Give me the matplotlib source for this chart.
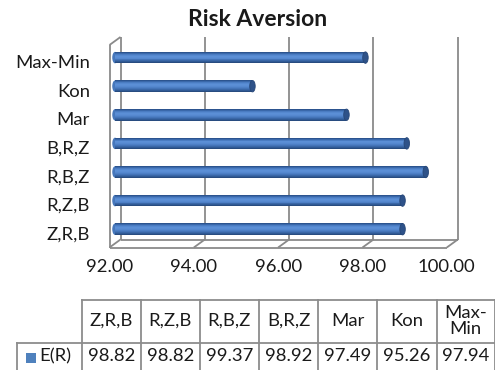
import matplotlib
matplotlib.use("Agg")
import matplotlib.pyplot as plt
from matplotlib.transforms import offset_copy
from matplotlib.patches import Ellipse, Rectangle
import numpy as np

# ---- data ----
categories = ["Z,R,B", "R,Z,B", "R,B,Z", "B,R,Z", "Mar", "Kon", "Max-Min"]
table_headers = ["Z,R,B", "R,Z,B", "R,B,Z", "B,R,Z", "Mar", "Kon", "Max-\nMin"]
values = [98.82, 98.82, 99.37, 98.92, 97.49, 95.26, 97.94]
series_name = "E(R)"
x_ticks = [92, 94, 96, 98, 100]
x_tick_labels = ["92.00", "94.00", "96.00", "98.00", "100.00"]
title = "Risk Aversion"

W, H = 495, 370
DPI = 100
FONT = "Lato"
FS = 13.3
TXT = "#1a1a1a"
GRID = "#8a8a8a"
BAR_BLUE = "#4f81bd"

plt.rcParams["font.family"] = [FONT, "DejaVu Sans"]

fig = plt.figure(figsize=(W / DPI, H / DPI), dpi=DPI)

# pixel-space overlay for the 3-D frame and the data table
ov = fig.add_axes([0, 0, 1, 1], zorder=0)
ov.set_xlim(0, W)
ov.set_ylim(0, H)
ov.axis("off")

# front plane of the plot area
left_px, right_px, top_px, bottom_px = 109.5, 446.8, 45.0, 247.5
ax = fig.add_axes([left_px / W, (H - bottom_px) / H,
                   (right_px - left_px) / W, (bottom_px - top_px) / H], zorder=1)
ax.set_facecolor("none")
ax.set_xlim(92, 100)
ax.set_ylim(-0.5, 6.58)
for s in ax.spines.values():
    s.set_visible(False)

ypos = np.arange(len(categories))
ax.set_yticks(ypos)
ax.set_yticklabels(categories, fontsize=FS, color=TXT)
ax.set_xticks(x_ticks)
ax.set_xticklabels(x_tick_labels, fontsize=FS, color=TXT)
ax.tick_params(axis="y", length=0, pad=14)
ax.tick_params(axis="x", length=0, pad=8.5)

# depth of the 3-D box in pixels
DX, DY = 11.0, 8.0


def px(x, y, depth=0.0):
    X, Y = ax.transData.transform((x, y))
    return X + DX * depth, Y + DY * depth


ymin, ymax = ax.get_ylim()
line_kw = dict(color=GRID, lw=1.3, solid_capstyle="butt", zorder=1)

# back wall gridlines
for xv in x_ticks:
    (x0, y0), (x1, y1) = px(xv, ymin, 1), px(xv, ymax, 1)
    ov.plot([x0, x1], [y0, y1], **line_kw)
# floor
fx0, fy0 = px(92, ymin)
fx1, fy1 = px(100, ymin)
ov.plot([fx0, fx1], [fy0, fy1], **line_kw)
bx0, by0 = px(92, ymin, 1)
bx1, by1 = px(100, ymin, 1)
ov.plot([bx0, bx1], [by0, by1], **line_kw)
for xv in x_ticks:
    (a, b), (c, d) = px(xv, ymin), px(xv, ymin, 1)
    ov.plot([a, c], [b, d], **line_kw)
# left wall
(a, b), (c, d) = px(92, ymin), px(92, ymax)
ov.plot([a, c], [b, d], **line_kw)
(e, f) = px(92, ymax, 1)
ov.plot([c, e], [d, f], **line_kw)

# cylinder bars, placed at mid-depth
bar_tr = offset_copy(ax.transData, fig=fig, x=DX / 2, y=DY / 2, units="dots")
bar_h = 0.40
shade = ["#2c548f", "#3a68aa", "#4a7cc2", "#5588cf", "#5b8fd6", "#5a8dd4",
         "#5588cf", "#4d7fc5", "#4474b8", "#3a67a7", "#305a95", "#284c80"]
n = len(shade)
cap_w = 0.13
for y, v in zip(ypos, values):
    ax.add_patch(Ellipse((92, y), cap_w, bar_h, facecolor="#4677bb",
                         edgecolor="none", transform=bar_tr, zorder=3, clip_on=False))
    for i, c in enumerate(shade):
        y_top = y + bar_h / 2 - i * bar_h / n
        ax.barh(y_top - bar_h / (2 * n), v - 92, height=bar_h / n, left=92,
                color=c, edgecolor="none", transform=bar_tr, zorder=4, clip_on=False)
    ax.add_patch(Ellipse((v, y), cap_w, bar_h, facecolor="#2e5289",
                         edgecolor="#264677", lw=0.6, transform=bar_tr,
                         zorder=5, clip_on=False))

# title
ov.text(258, H - 20, title, ha="center", va="center", fontsize=16.5,
        fontweight="bold", color=TXT)

# data table
tcol = "#8c8c8c"
col_edges = [82, 141, 199.5, 259, 318, 377, 436.7, 494.5]
t_top, t_mid, t_bot = H - 299.5, H - 342.5, 0
tkw = dict(color=tcol, lw=1.3, zorder=1)
ov.plot([col_edges[0], col_edges[-1]], [t_top, t_top], **tkw)
ov.plot([17.3, col_edges[-1]], [t_mid, t_mid], **tkw)
for xe in col_edges:
    ov.plot([xe, xe], [t_top, t_bot], **tkw)
ov.plot([17.3, 17.3], [t_mid, t_bot], **tkw)

for i, (hd, v) in enumerate(zip(table_headers, values)):
    cx = (col_edges[i] + col_edges[i + 1]) / 2
    ov.text(cx, (t_top + t_mid) / 2, hd, ha="center", va="center",
            fontsize=FS, color=TXT, linespacing=0.95)
    ov.text(cx, H - 356, f"{v:.2f}", ha="center", va="center",
            fontsize=FS, color=TXT)

ov.add_patch(Rectangle((25.7, H - 363.3), 10, 10.6, facecolor=BAR_BLUE,
                       edgecolor="none"))
ov.text(39, H - 356, series_name, ha="left", va="center", fontsize=FS,
        color=TXT)

fig.savefig("out.png", dpi=DPI)
